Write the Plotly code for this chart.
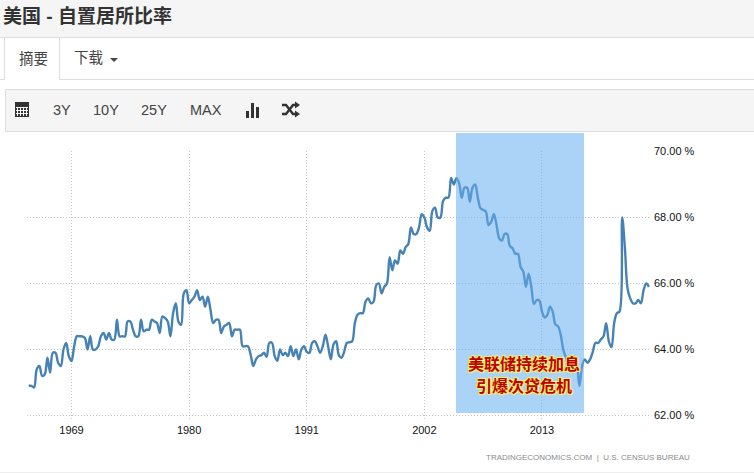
import plotly.graph_objects as go

START_YEAR = 1965
RATE = [
 62.9,62.9,62.85,63.4,63.5,63.2,63.25,63.75,63.3,63.9,63.9,63.6,63.5,64.0,64.2,63.8,
 63.65,64.1,64.4,64.4,64.4,64.35,64.0,64.4,64.0,64.0,64.1,64.4,64.5,64.3,64.5,64.3,
 64.3,64.9,64.4,64.4,64.4,64.85,64.85,64.6,64.4,64.4,64.9,64.55,64.6,64.6,64.9,64.85,
 64.8,64.5,65.0,64.95,64.85,64.4,65.1,65.4,64.85,64.75,65.7,65.8,65.4,65.5,65.6,65.8,
 65.5,65.6,65.3,65.6,65.2,64.8,64.9,64.9,64.5,64.7,64.75,64.8,64.4,64.6,64.6,64.6,
 64.1,64.1,64.1,63.85,63.5,63.7,63.8,63.83,63.9,63.78,64.2,64.2,63.8,63.66,64.0,63.83,
 63.9,63.8,64.1,63.8,64.0,63.7,64.0,64.1,63.93,63.9,64.2,64.25,64.1,63.9,64.1,64.45,
 64.1,63.7,64.15,64.25,63.83,63.75,63.93,64.2,64.22,64.25,64.8,65.05,65.1,65.1,65.45,65.55,
 65.4,65.45,65.95,66.0,65.7,65.9,66.0,66.8,66.4,66.7,66.6,67.0,66.9,67.1,67.2,67.7,
 67.5,67.5,67.7,68.1,68.0,67.7,67.6,68.2,68.3,68.0,68.0,68.5,68.6,68.6,69.2,69.0,
 69.19,69.04,68.6,68.9,68.9,68.48,68.9,69.0,68.6,68.28,68.23,68.18,67.77,67.87,68.1,67.77,
 67.37,67.3,67.5,67.5,67.13,67.07,66.9,66.9,66.5,66.36,65.9,66.3,65.9,65.38,65.5,65.48,
 65.15,64.97,65.05,65.3,65.15,64.76,64.7,64.45,63.98,63.75,63.5,63.7,63.8,63.6,62.9,63.5,
 63.7,63.6,63.7,63.93,64.2,64.2,64.3,64.4,64.8,64.25,64.07,64.8,65.1,65.15,68.0,67.1,
 65.85,65.55,65.4,65.4,65.5,65.4,65.8,66.0,65.9,
]
YEARS = [START_YEAR + i / 4 for i in range(len(RATE))]
X_TICKS = [1969, 1980, 1991, 2002, 2013]
Y_TICKS = [62, 64, 66, 68, 70]
Y_LABELS = ["62.00 %", "64.00 %", "66.00 %", "68.00 %", "70.00 %"]
TITLE = "美国 - 自置居所比率"
TABS = ["摘要", "下载"]
TOOLS = ["3Y", "10Y", "25Y", "MAX"]
NOTE = ["美联储持续加息", "引爆次贷危机"]
CREDIT = "TRADINGECONOMICS.COM  |  U.S. CENSUS BUREAU"

W, H = 754, 473
PL, PR = 27, 650
PT, PB = 150.5, 418.5
Y_PX = 33.0
PX_PER_YEAR = 10.693
def yr(px):
    return 1969 + (px - 71.5) / PX_PER_YEAR
def val(py):
    return 70 + (151.5 - py) / Y_PX
def fx(x): return x / W
def fy(y): return 1 - y / H

fig = go.Figure(go.Scatter(x=YEARS, y=RATE, mode="lines",
    line=dict(color="#4682b4", width=2.4, shape="spline", smoothing=1.0), hoverinfo="skip"))

shapes = []
def rect(x0, y0, x1, y1, fill, line=None, layer="below"):
    shapes.append(dict(type="rect", xref="paper", yref="paper", x0=fx(x0), x1=fx(x1), y0=fy(y0), y1=fy(y1),
        fillcolor=fill, line=dict(color=line or fill, width=1 if line else 0), layer=layer))
def hline(x0, x1, y, c="#dddddd"):
    shapes.append(dict(type="line", xref="paper", yref="paper", x0=fx(x0), x1=fx(x1), y0=fy(y), y1=fy(y),
        line=dict(color=c, width=1), layer="below"))
def vline(x, y0, y1, c="#dddddd"):
    shapes.append(dict(type="line", xref="paper", yref="paper", x0=fx(x), x1=fx(x), y0=fy(y0), y1=fy(y1),
        line=dict(color=c, width=1), layer="below"))
def path(points, fill=None, color="#333333", width=0):
    d = "M" + " L".join(f"{fx(a):.5f},{fy(b):.5f}" for a, b in points) + (" Z" if fill else "")
    shapes.append(dict(type="path", xref="paper", yref="paper", path=d, fillcolor=fill,
        line=dict(color=color, width=width), layer="below"))

# header
rect(0, 0, W, 37, "#f5f5f5")
hline(0, W, 37.5)
# tabs
hline(0, 4, 79.5); hline(59, W, 79.5)
vline(4.5, 38, 80); vline(59.5, 38, 80)
path([(110, 58), (118, 58), (114, 62)], fill="#444444")
# toolbar
rect(5.5, 89.5, W + 2, 131.5, "#f5f5f5", "#dddddd")
# calendar icon
rect(15, 102, 29, 117, "#333333")
for gy in (107, 110, 113):
    hline(16, 28, gy + .5, "#f5f5f5")
for gx in (18, 21, 24, 27):
    vline(gx - .5, 107, 116, "#f5f5f5")
# bars icon
rect(246, 111, 249, 118, "#333333")
rect(251, 103, 254, 118, "#333333")
rect(256, 107, 259, 118, "#333333")
# shuffle icon
path([(282, 105), (286, 105), (293, 114), (296, 114)], color="#333333", width=2.4)
path([(282, 114), (286, 114), (293, 105), (296, 105)], color="#333333", width=2.4)
path([(295, 101.5), (300, 105), (295, 108.5)], fill="#333333")
path([(295, 110.5), (300, 114), (295, 117.5)], fill="#333333")
# bottom strip
hline(0, W, 472.5, "#eeeeee")
# highlight band (over the series)
rect(456, 133, 584, 413, "rgba(102,173,240,0.55)", layer="above")

ann = []
def text(x, y, s, size, color="#333333", anchor="left", family="Liberation Sans, Noto Sans CJK SC", **font):
    ann.append(dict(xref="paper", yref="paper", x=fx(x), y=fy(y), text=s, showarrow=False, xanchor=anchor,
        yanchor="middle", font=dict(size=size, color=color, family=family, **font)))
text(1, 17, f"<b>{TITLE}</b>", 19, "#333333")
text(17, 58, TABS[0], 14.5, "#444444")
text(72, 58, TABS[1], 14.5, "#444444")
for label, x in zip(TOOLS, (51, 91, 139, 188)):
    text(x, 110.5, label, 14.5, "#444444")
text(692, 457, CREDIT, 8, "#8a8a8a", anchor="right")
OUTLINE = ", ".join(f"{a}px {b}px 0 #f5f06a" for a in (-1, 0, 1) for b in (-1, 0, 1) if a or b)
text(523.5, 362.5, f"<b>{NOTE[0]}</b>", 16, "#c00000", anchor="center", family="Noto Sans CJK SC", shadow=OUTLINE)
text(523.5, 385, f"<b>{NOTE[1]}</b>", 16, "#c00000", anchor="center", family="Noto Sans CJK SC", shadow=OUTLINE)

fig.update_layout(width=W, height=H, margin=dict(l=0, r=0, t=0, b=0, autoexpand=False), paper_bgcolor="white", plot_bgcolor="white",
    showlegend=False, shapes=shapes, annotations=ann,
    xaxis=dict(domain=[fx(PL), fx(PR)], range=[yr(PL), yr(PR)], tickvals=X_TICKS, ticktext=[str(v) for v in X_TICKS],
        showgrid=True, gridcolor="#c4c4c4", griddash="1px,2px", gridwidth=1, zeroline=False, showline=False,
        ticks="", ticklabelstandoff=3, tickfont=dict(size=11, color="#111111", family="Liberation Sans")),
    yaxis=dict(domain=[fy(PB), fy(PT)], range=[val(PB), val(PT)], side="right", tickvals=Y_TICKS, ticktext=Y_LABELS,
        showgrid=True, gridcolor="#c4c4c4", griddash="1px,2px", gridwidth=1, zeroline=False, showline=False,
        ticks="", ticklabelstandoff=3, tickfont=dict(size=11, color="#111111", family="Liberation Sans")))

fig.write_html("out.html", config={"displayModeBar": False},
    post_script="document.body.style.margin='0';")
